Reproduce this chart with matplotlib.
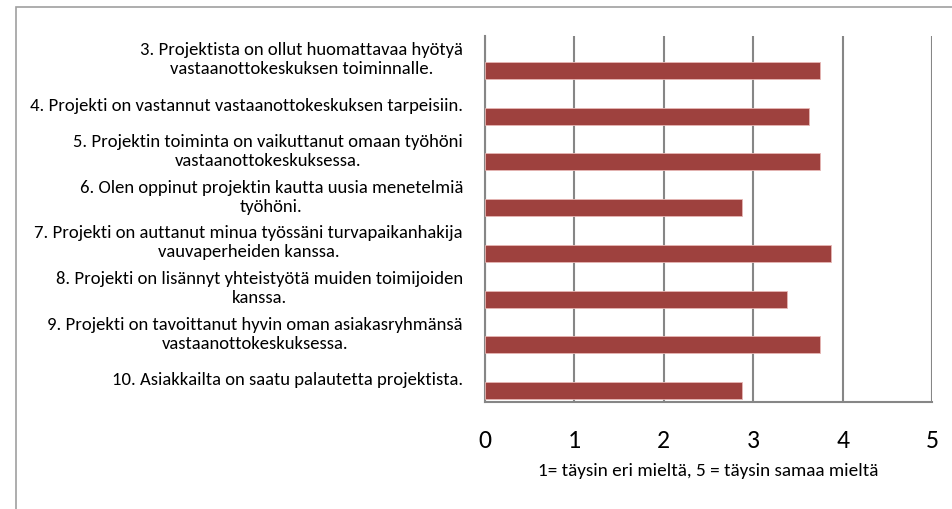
import matplotlib
matplotlib.use('Agg')
import matplotlib.pyplot as plt
from matplotlib.patches import Rectangle

# survey statements and mean scores (1-5 scale)
labels = [
    '3. Projektista on ollut huomattavaa hyötyä\nvastaanottokeskuksen toiminnalle.',
    '4. Projekti on vastannut vastaanottokeskuksen tarpeisiin.',
    '5. Projektin toiminta on vaikuttanut omaan työhöni\nvastaanottokeskuksessa.',
    '6. Olen oppinut projektin kautta uusia menetelmiä\ntyöhöni.',
    '7. Projekti on auttanut minua työssäni turvapaikanhakija\nvauvaperheiden kanssa.',
    '8. Projekti on lisännyt yhteistyötä muiden toimijoiden\nkanssa.',
    '9. Projekti on tavoittanut hyvin oman asiakasryhmänsä\nvastaanottokeskuksessa.',
    '10. Asiakkailta on saatu palautetta projektista.',
]
scores = [3.75, 3.625, 3.75, 2.875, 3.875, 3.375, 3.75, 2.875]
xticks = [0, 1, 2, 3, 4, 5]
xlabel = '1= täysin eri mieltä, 5 = täysin samaa mieltä'

plt.rcParams['font.family'] = ['Carlito', 'DejaVu Sans']

fig = plt.figure(figsize=(9.53, 5.10), dpi=100)
ax = fig.add_axes([485 / 953, 1 - 403 / 510, 447 / 953, 366 / 510])

pos = [i + 0.5 for i in range(len(labels))]
ax.barh([p + 0.25 for p in pos], scores, height=0.37, color='#9e413e',
        edgecolor='#e6b6b4', linewidth=0.6, zorder=3)

ax.set_ylim(len(labels), 0)
ax.set_xlim(0, 5)
ax.set_yticks(pos)
ax.set_yticklabels([])
ax.set_xticks(xticks)
ax.tick_params(axis='x', length=0, pad=19, labelsize=18.5)
ax.tick_params(axis='y', length=0)

# wrapped category labels: block ends next to the axis, lines centred
for p, lab in zip(pos, labels):
    ax.annotate(lab, xy=(0, p), xycoords=('axes fraction', 'data'),
                xytext=(-22, 0), textcoords='offset pixels',
                ha='right', va='center', multialignment='center',
                fontsize=13.4, linespacing=1.22)

ax.grid(axis='x', color='#868686', linewidth=1.5, zorder=1)
for s in ['top', 'right']:
    ax.spines[s].set_visible(False)
for s in ['left', 'bottom']:
    ax.spines[s].set_color('#868686')
    ax.spines[s].set_linewidth(1.5)

ax.set_xlabel(xlabel, fontsize=13.8, labelpad=8)

# outer chart frame
fig.patches.append(Rectangle((16 / 953, -0.1), 1.2, 1 - 8 / 510 + 0.1,
                             transform=fig.transFigure, fill=False,
                             edgecolor='#a0a0a0', linewidth=1.2))

fig.savefig('out.png', dpi=100)
